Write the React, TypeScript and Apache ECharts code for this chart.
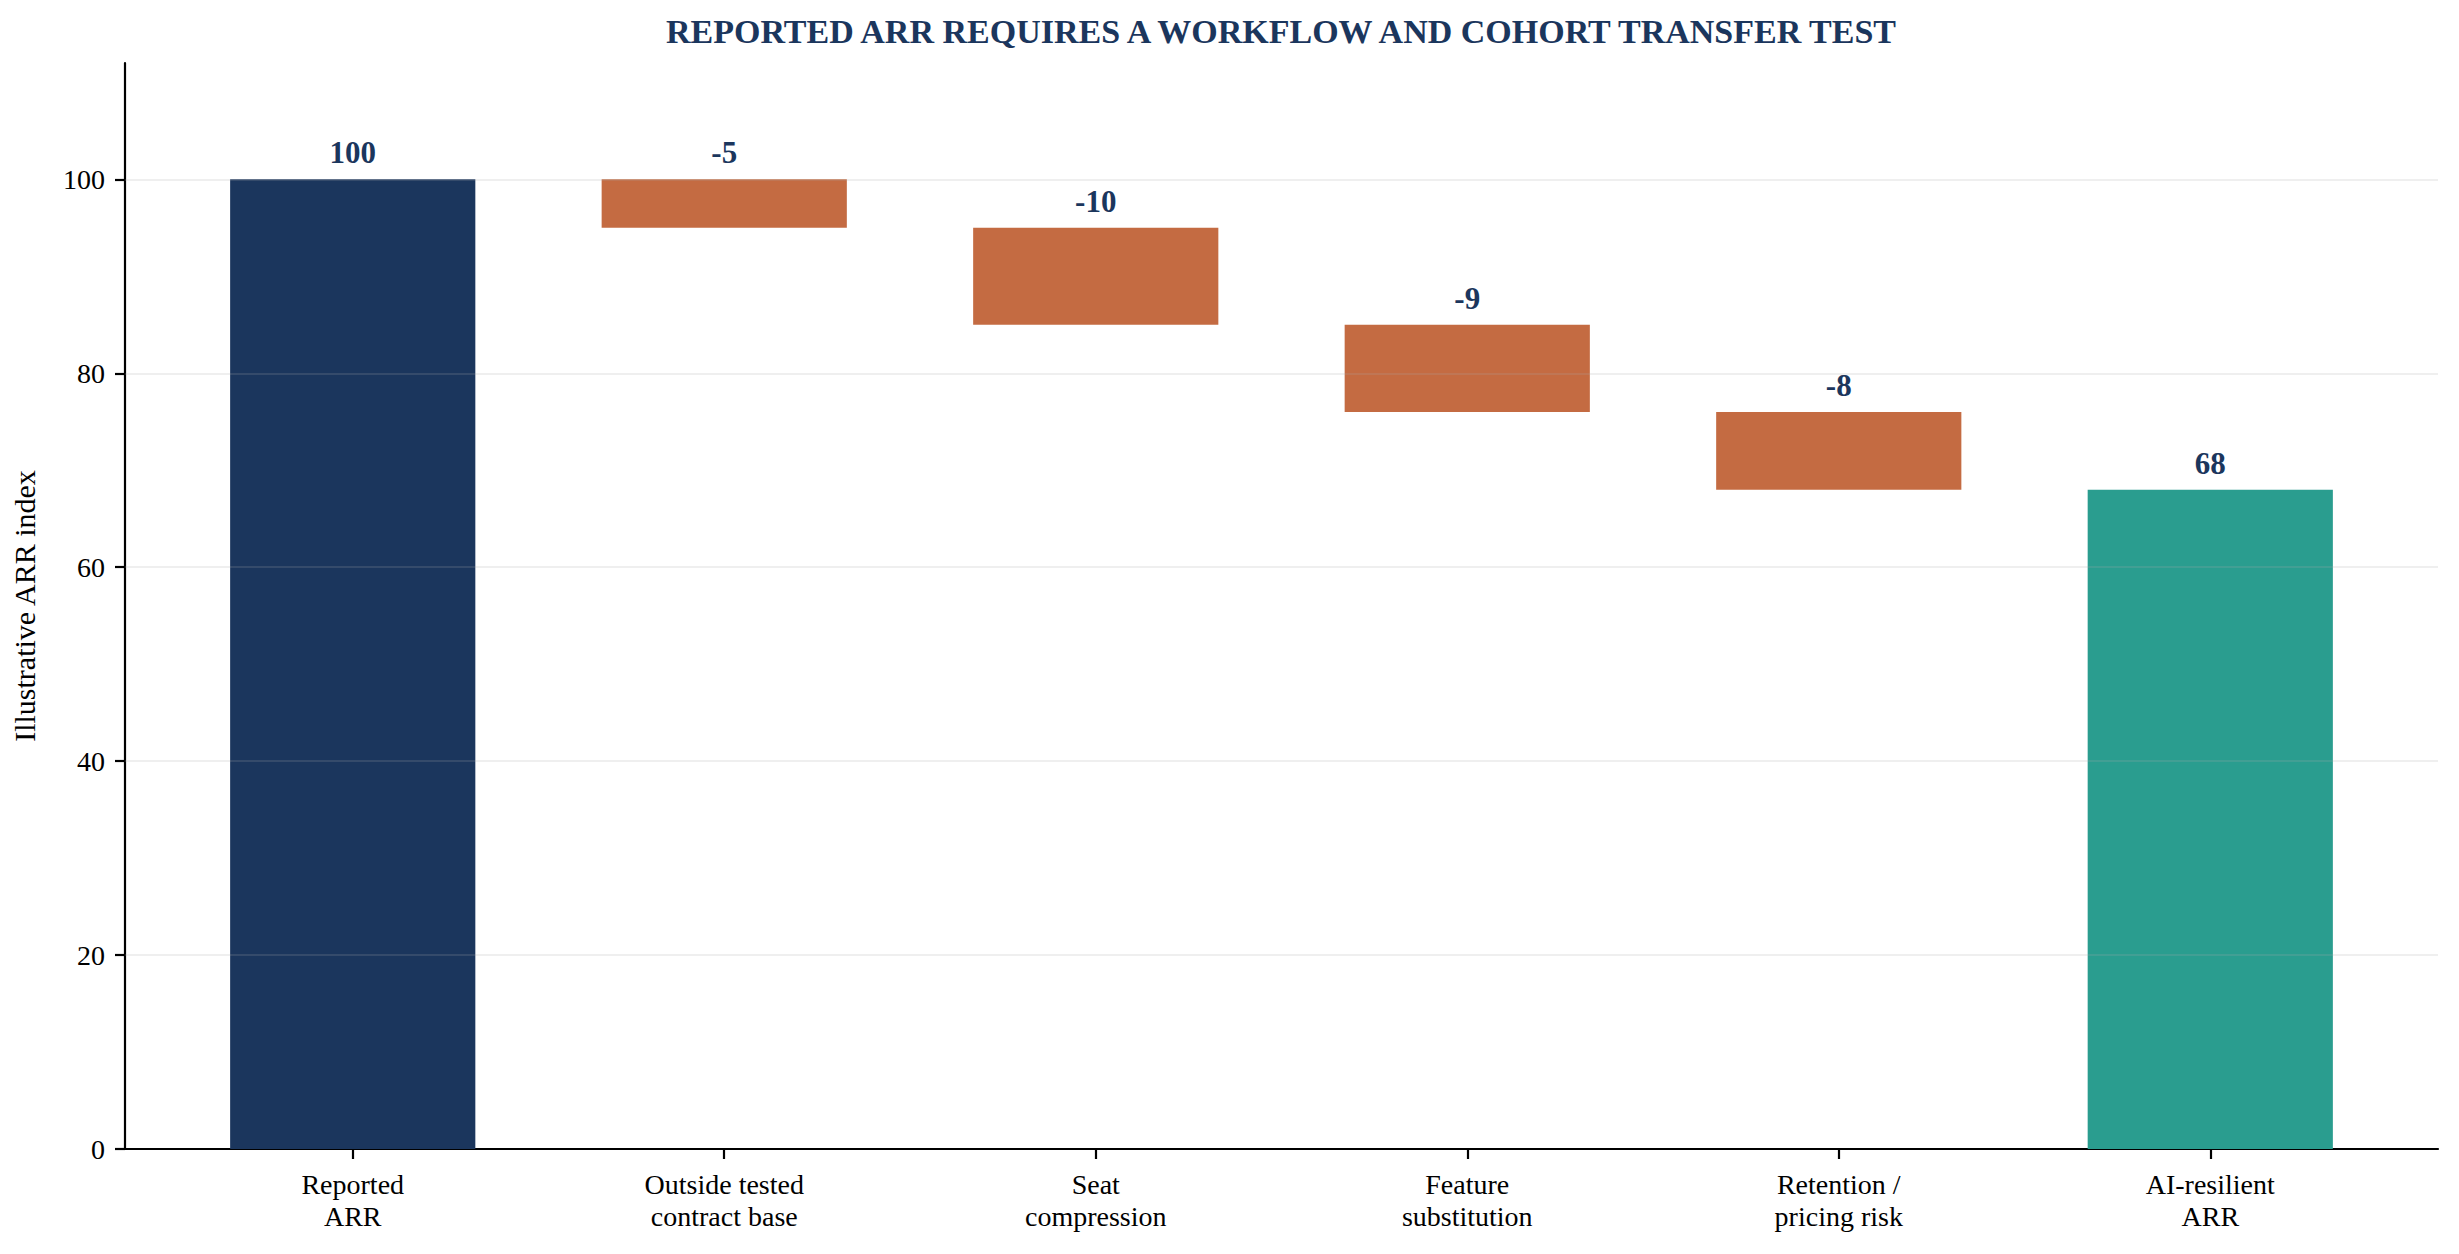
import React, { useEffect, useRef } from "react";
import * as echarts from "echarts";

const categories = [
  "Reported\nARR",
  "Outside tested\ncontract base",
  "Seat\ncompression",
  "Feature\nsubstitution",
  "Retention /\npricing risk",
  "AI-resilient\nARR",
];
const changes = [100, -5, -10, -9, -8, 68];
const kinds = ["total", "delta", "delta", "delta", "delta", "total"];
const yTicks = [0, 20, 40, 60, 80, 100];
const gridValues = [20, 40, 60, 80, 100];

const NAVY = "#1b365d";
const ORANGE = "#c46b42";
const TEAL = "#2a9d8f";
const FONT = '"Liberation Serif", "Times New Roman", serif';
const BAR_W = 0.66;

export default function App() {
  const ref = useRef<HTMLDivElement>(null);
  useEffect(() => {
    if (!ref.current) return;
    const chart = echarts.init(ref.current, null, { renderer: "svg" });

    let running = 0;
    const rows: number[][] = [];
    changes.forEach((v, i) => {
      if (kinds[i] === "total") {
        rows.push([i, 0, v]);
        running = v;
      } else {
        const next = running + v;
        rows.push([i, Math.min(running, next), Math.max(running, next)]);
        running = next;
      }
    });
    const colorOf = (i: number) =>
      kinds[i] === "delta" ? ORANGE : i === 0 ? NAVY : TEAL;

    const option: any = {
      animation: false,
      backgroundColor: "#ffffff",
      grid: { left: 125, right: 21, top: 63, bottom: 105, containLabel: false },
      graphic: [
        {
          type: "text",
          x: 1281,
          y: 31,
          style: {
            text: "REPORTED ARR REQUIRES A WORKFLOW AND COHORT TRANSFER TEST",
            textAlign: "center",
            textVerticalAlign: "middle",
            font: `bold 34px ${FONT}`,
            fill: NAVY,
          },
        },
      ],
      xAxis: {
        type: "value",
        min: -(BAR_W / 2) - 0.05 * (5 + BAR_W),
        max: 5 + BAR_W / 2 + 0.05 * (5 + BAR_W),
        splitLine: { show: false },
        axisLine: { show: true, onZero: false, lineStyle: { color: "#000", width: 2.2 } },
        axisTick: {
          show: true,
          customValues: categories.map((_, i) => i),
          length: 10,
          lineStyle: { color: "#000", width: 2.2 },
        },
        axisLabel: {
          customValues: categories.map((_, i) => i),
          formatter: (v: number) => categories[Math.round(v)] ?? "",
          fontFamily: FONT,
          fontSize: 28,
          lineHeight: 32,
          color: "#000",
          margin: 19,
        },
      },
      yAxis: {
        type: "value",
        min: 0,
        max: 112,
        interval: 20,
        name: "Illustrative ARR index",
        nameLocation: "middle",
        nameGap: 86,
        nameTextStyle: { fontFamily: FONT, fontSize: 30, color: "#000" },
        axisLine: { show: true, onZero: false, lineStyle: { color: "#000", width: 2.2 } },
        axisTick: {
          show: true,
          customValues: yTicks,
          length: 10,
          lineStyle: { color: "#000", width: 2.2 },
        },
        axisLabel: {
          customValues: yTicks,
          fontFamily: FONT,
          fontSize: 28,
          color: "#000",
          margin: 20,
        },
        splitLine: { show: false },
      },
      series: [
        {
          type: "custom",
          data: rows,
          z: 2,
          renderItem: (params: any, api: any) => {
            const i = params.dataIndex;
            const x = api.value(0);
            const low = api.value(1);
            const high = api.value(2);
            const p1 = api.coord([x - BAR_W / 2, high]);
            const p2 = api.coord([x + BAR_W / 2, low]);
            return {
              type: "group",
              children: [
                {
                  type: "rect",
                  shape: { x: p1[0], y: p1[1], width: p2[0] - p1[0], height: p2[1] - p1[1] },
                  style: { fill: colorOf(i) },
                },
                {
                  type: "text",
                  x: (p1[0] + p2[0]) / 2,
                  y: p1[1] - 11,
                  style: {
                    text: String(changes[i]),
                    textAlign: "center",
                    textVerticalAlign: "bottom",
                    font: `bold 31px ${FONT}`,
                    fill: NAVY,
                  },
                },
              ],
            };
          },
          markLine: {
            silent: true,
            symbol: "none",
            z: 10,
            label: { show: false },
            lineStyle: { color: "rgba(170,170,170,0.25)", width: 1.5, type: "solid" },
            data: gridValues.map((v) => ({ yAxis: v })),
          },
        },
      ],
    };
    chart.setOption(option);
    return () => chart.dispose();
  }, []);
  return (
    <div
      ref={ref}
      style={{ position: "fixed", left: 0, top: 0, width: "100vw", height: "100vh" }}
    />
  );
}
